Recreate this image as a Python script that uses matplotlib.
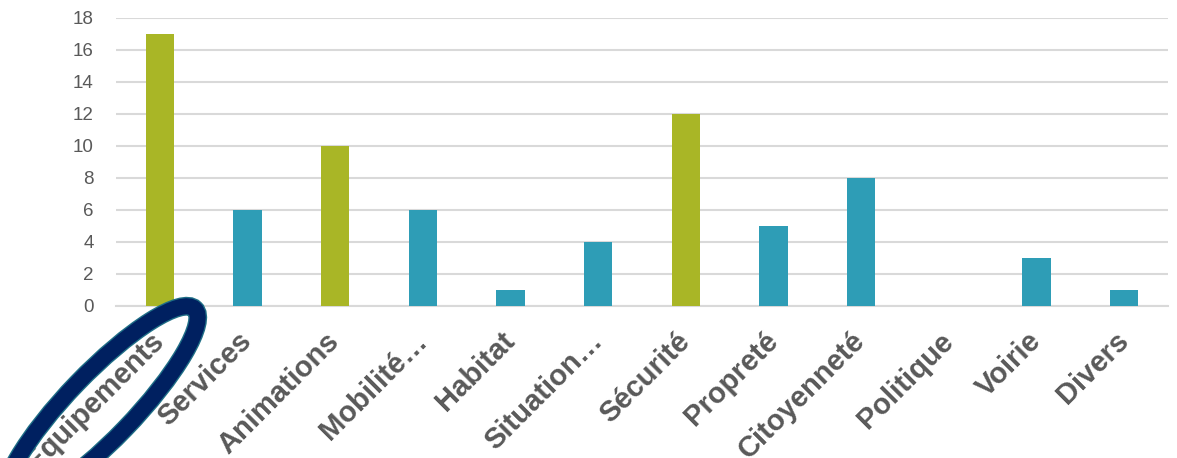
import numpy as np
import matplotlib.pyplot as plt
from matplotlib.patches import Ellipse
from matplotlib.transforms import ScaledTranslation

categories = ['Equipements', 'Services', 'Animations', 'Mobilité…', 'Habitat', 'Situation…',
              'Sécurité', 'Propreté', 'Citoyenneté', 'Politique', 'Voirie', 'Divers']
values = [17, 6, 10, 6, 1, 4, 12, 5, 8, 0, 3, 1]
highlight = [True, False, True, False, False, False, True, False, False, False, False, False]

green = '#A9B626'
teal = '#2E9DB6'
grey_text = '#595959'
grid_col = '#D9D9D9'

plt.rcParams['font.family'] = ['Liberation Sans', 'DejaVu Sans']

fig = plt.figure(figsize=(11.77, 4.58), dpi=100)
ax = fig.add_axes([116 / 1177, 1 - 306 / 458, 1052 / 1177, 288 / 458])

x = np.arange(len(categories))
colors = [green if h else teal for h in highlight]
ax.bar(x, values, width=0.32, color=colors, zorder=3)

ax.set_xlim(-0.5, len(categories) - 0.5)
ax.set_ylim(0, 18)
ax.set_yticks(range(0, 19, 2))
ax.yaxis.grid(True, color=grid_col, linewidth=1.5, zorder=0)
for s in ['top', 'right', 'left']:
    ax.spines[s].set_visible(False)
ax.spines['bottom'].set_color(grid_col)
ax.spines['bottom'].set_linewidth(1.5)
ax.tick_params(axis='both', length=0)
ax.tick_params(axis='y', labelsize=13.5, labelcolor=grey_text, pad=16)

ax.set_xticks(x)
ax.set_xticklabels(categories, rotation=45, ha='right', va='top',
                   rotation_mode='anchor', fontsize=21, fontweight='bold', color=grey_text)
offset = ScaledTranslation(-10 / 100, -16 / 100, fig.dpi_scale_trans)
for lbl in ax.get_xticklabels():
    lbl.set_transform(lbl.get_transform() + offset)

# ellipse around the first label (pixel coordinates)
ring_outer = Ellipse((101, 52), 270, 66, angle=46, transform=None, fill=False,
                     edgecolor='#1F6E86', linewidth=13.5, zorder=10)
ring_inner = Ellipse((101, 52), 270, 66, angle=46, transform=None, fill=False,
                     edgecolor='#002060', linewidth=11.5, zorder=11)
fig.patches.append(ring_outer)
fig.patches.append(ring_inner)

fig.savefig('out.png', dpi=100)
